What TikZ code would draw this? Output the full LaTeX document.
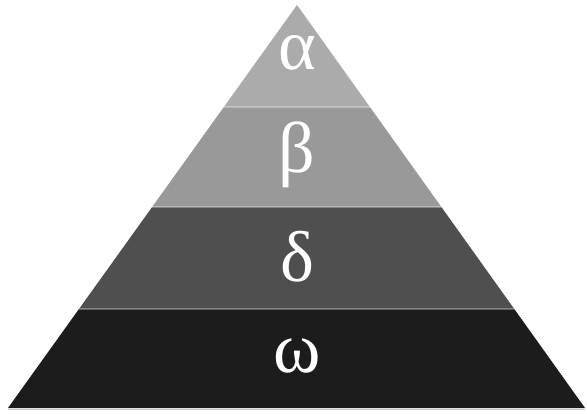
\documentclass[tikz,border=0pt]{standalone}
\usepackage{fontspec}
\setmainfont{Liberation Serif}
\definecolor{cA}{HTML}{ABABAB}
\definecolor{cB}{HTML}{999999}
\definecolor{cD}{HTML}{4F4F4F}
\definecolor{cW}{HTML}{1C1C1C}
\tikzset{
  lbl/.style={text=white, font=\fontsize{72}{72}\selectfont, inner sep=0pt},
  sep/.style={white, opacity=0.3, line width=1.2pt},
}
\begin{document}
\begin{tikzpicture}[x=1pt,y=1pt]
\useasboundingbox (0,0) rectangle (587,413);
\coordinate (apex) at (297,408);
\coordinate (bl) at (8,5);
\coordinate (br) at (585,5);
\begin{scope}
  \clip (apex) -- (br) -- (bl) -- cycle;
  \fill[cA] (0,306) rectangle (587,413);
  \fill[cB] (0,206) rectangle (587,306);
  \fill[cD] (0,104) rectangle (587,206);
  \fill[cW] (0,0) rectangle (587,104);
  \draw[sep] (0,306) -- (587,306);
  \draw[sep] (0,206) -- (587,206);
  \draw[sep] (0,104) -- (587,104);
\end{scope}
\draw[gray!45, line width=1pt] (8,3.5) -- (585,3.5);
\node[lbl] (alpha) at (297,360) {α};
\node[lbl] (beta) at (297,258) {β};
\node[lbl] (delta) at (297,156) {δ};
\node[lbl] (omega) at (297,57) {ω};
\end{tikzpicture}
\end{document}
